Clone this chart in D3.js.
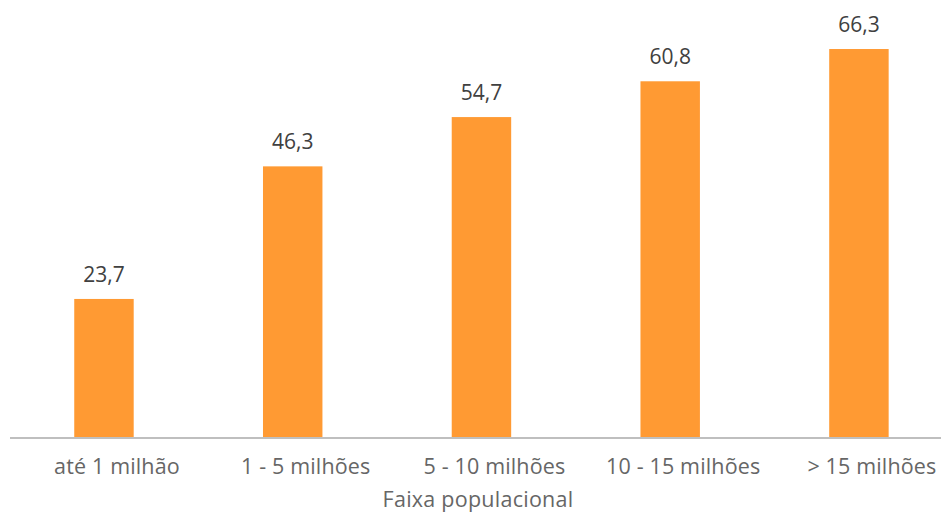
<!DOCTYPE html>
<html>
<head>
<meta charset="utf-8">
<script src="https://cdn.jsdelivr.net/npm/d3@7"></script>
<style>
  html, body { margin: 0; padding: 0; background: #fff; }
  svg { display: block; font-family: "Open Sans", sans-serif; }
</style>
</head>
<body>
<svg id="chart" width="941" height="513"></svg>
<script>
// Faixa populacional categories and their values
const categories = ["até 1 milhão", "1 - 5 milhões", "5 - 10 milhões", "10 - 15 milhões", "> 15 milhões"];
const values = [23.7, 46.3, 54.7, 60.8, 66.3];
const axisTitle = "Faixa populacional";

const svg = d3.select("#chart");
const baseY = 438;

const x = d3.scaleBand()
  .domain(categories)
  .range([9.6, 953.3])
  .paddingInner(0.685)
  .paddingOuter(0.3425);

const y = d3.scaleLinear()
  .domain([0, 70])
  .range([baseY, baseY - 70 * 5.867]);

const fmt = v => d3.format(".1f")(v).replace(".", ",");

// bars
svg.append("g").selectAll("rect")
  .data(values)
  .join("rect")
  .attr("x", (d, i) => x(categories[i]))
  .attr("y", d => y(d))
  .attr("width", x.bandwidth())
  .attr("height", d => y(0) - y(d))
  .attr("fill", "#FF9A33");

// value labels
svg.append("g").selectAll("text")
  .data(values)
  .join("text")
  .attr("x", (d, i) => x(categories[i]) + x.bandwidth() / 2)
  .attr("y", d => y(d) - 17)
  .attr("text-anchor", "middle")
  .attr("font-size", 21)
  .attr("fill", "#404040")
  .text(d => fmt(d));

// category axis
const xAxis = d3.axisBottom(x).tickSize(0).tickPadding(0);
const gx = svg.append("g")
  .attr("transform", `translate(0,${baseY})`)
  .call(xAxis);
gx.select(".domain").remove();
gx.append("line")
  .attr("x1", 10).attr("x2", 941)
  .attr("y1", 0).attr("y2", 0)
  .attr("stroke", "#BFBFBF")
  .attr("stroke-width", 2);
gx.selectAll(".tick text")
  .attr("x", 13)
  .attr("y", 36)
  .attr("dy", null)
  .attr("font-size", 21.5)
  .attr("letter-spacing", 0.15)
  .attr("font-family", "Open Sans, sans-serif")
  .attr("fill", "#666666");

// axis title
svg.append("text")
  .attr("x", 478)
  .attr("y", 507)
  .attr("text-anchor", "middle")
  .attr("font-size", 21.5)
  .attr("letter-spacing", 0.25)
  .attr("fill", "#666666")
  .text(axisTitle);
</script>
</body>
</html>
